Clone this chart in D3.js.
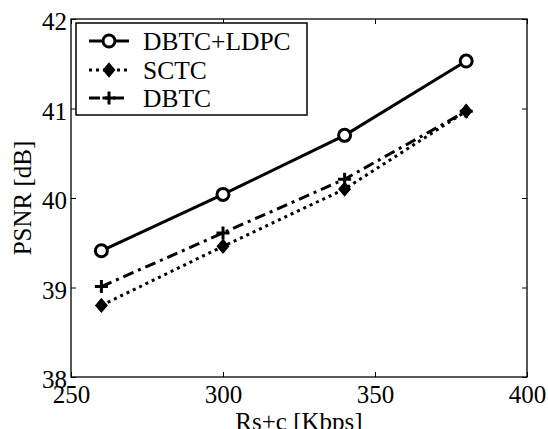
<!DOCTYPE html>
<html><head><meta charset="utf-8">
<script src="https://cdn.jsdelivr.net/npm/d3@7"></script>
<style>body{margin:0;background:#fff}svg{display:block}</style>
</head><body><svg id="c" width="548" height="429"></svg>
<script>
const rates = [260, 300, 340, 380];
const ldpc = [39.41, 40.04, 40.70, 41.53];
const sctc = [38.80, 39.46, 40.10, 40.97];
const dbtc = [39.01, 39.61, 40.21, 40.97];
const xTicks = [250, 300, 350, 400];
const yTicks = [38, 39, 40, 41, 42];
const seriesNames = ["DBTC+LDPC", "SCTC", "DBTC"];

const FONT = "Liberation Serif";
const svg = d3.select("#c");
const L = 71, R = 527, T = 19, B = 377;
const x = d3.scaleLinear().domain([250, 400]).range([L, R]);
const y = d3.scaleLinear().domain([38, 42]).range([B, T]);

svg.append("rect").attr("width", 548).attr("height", 429).attr("fill", "#fff");

const fmt = d3.format("d");
const fs = "25px";
const ax = (g, axis) => g.call(axis).attr("font-family", FONT)
  .call(s => s.select(".domain").remove())
  .call(s => s.selectAll("line").attr("stroke", "#000").attr("stroke-width", 1));
svg.append("g").attr("transform", `translate(0,${B})`)
  .call(g => ax(g, d3.axisBottom(x).tickValues(xTicks).tickFormat(fmt).tickSize(-5).tickPadding(8)))
  .selectAll("text").attr("font-size", fs).attr("dy", "0.71em");
svg.append("g").attr("transform", `translate(0,${T})`)
  .call(g => ax(g, d3.axisTop(x).tickValues(xTicks).tickSize(-5).tickFormat("")));
svg.append("g").attr("transform", `translate(${L},0)`)
  .call(g => ax(g, d3.axisLeft(y).tickValues(yTicks).tickFormat(fmt).tickSize(-5).tickPadding(4)))
  .selectAll("text").attr("font-size", fs).attr("dy", "0.42em");
svg.append("g").attr("transform", `translate(${R},0)`)
  .call(g => ax(g, d3.axisRight(y).tickValues(yTicks).tickSize(-5).tickFormat("")));
svg.selectAll(".tick text").attr("font-family", FONT).attr("fill", "#000");

svg.append("rect").attr("x", L).attr("y", T).attr("width", R - L).attr("height", B - T)
  .attr("fill", "none").attr("stroke", "#000").attr("stroke-width", 1.3);

// titles
svg.append("text").attr("x", (L + R) / 2).attr("y", 430).attr("text-anchor", "middle")
  .attr("font-family", FONT).attr("font-size", "25px").text("Rs+c [Kbps]");
svg.append("text").attr("transform", `translate(31,${(T + B) / 2}) rotate(-90)`)
  .attr("font-family", FONT).attr("text-anchor", "middle").attr("font-size", "25px").text("PSNR [dB]");

const line = d3.line().x(d => x(d[0])).y(d => y(d[1]));
const styles = [
  {data: ldpc, dash: null, marker: "circle"},
  {data: sctc, dash: "3,4", marker: "diamond"},
  {data: dbtc, dash: "11,5,3,5", marker: "plus"}
];
function drawMarker(g, type, cx, cy) {
  if (type === "circle") {
    g.append("circle").attr("cx", cx).attr("cy", cy).attr("r", 6)
      .attr("fill", "#fff").attr("stroke", "#000").attr("stroke-width", 3);
  } else if (type === "diamond") {
    g.append("path").attr("d", `M${cx},${cy - 6.5}L${cx + 5.5},${cy}L${cx},${cy + 6.5}L${cx - 5.5},${cy}Z`)
      .attr("fill", "#000").attr("stroke", "#000").attr("stroke-width", 1.5);
  } else {
    g.append("path").attr("d", `M${cx - 6.5},${cy}H${cx + 6.5}M${cx},${cy - 6.5}V${cy + 6.5}`)
      .attr("stroke", "#000").attr("stroke-width", 3).attr("fill", "none");
  }
}
[2, 1, 0].forEach(i => {
  const s = styles[i];
  const pts = rates.map((r, j) => [r, s.data[j]]);
  const g = svg.append("g");
  g.append("path").attr("d", line(pts)).attr("fill", "none").attr("stroke", "#000")
    .attr("stroke-width", 3).attr("stroke-dasharray", s.dash);
  pts.forEach(p => drawMarker(g, s.marker, x(p[0]), y(p[1])));
});

// legend
const lg = svg.append("g");
lg.append("rect").attr("x", 76).attr("y", 23).attr("width", 231).attr("height", 92)
  .attr("fill", "#fff").attr("stroke", "#000").attr("stroke-width", 1.5);
const rowsY = [41, 70, 98];
seriesNames.forEach((n, i) => {
  const s = styles[i];
  const ry = rowsY[i];
  lg.append("line").attr("x1", 89).attr("x2", 129).attr("y1", ry).attr("y2", ry)
    .attr("stroke", "#000").attr("stroke-width", 3).attr("stroke-dasharray", s.dash);
  drawMarker(lg, s.marker, 109, ry);
  lg.append("text").attr("x", 143).attr("y", ry).attr("dy", "0.35em")
    .attr("font-family", FONT).attr("font-size", "25.5px").attr("fill", "#000").text(n);
});
</script></body></html>
